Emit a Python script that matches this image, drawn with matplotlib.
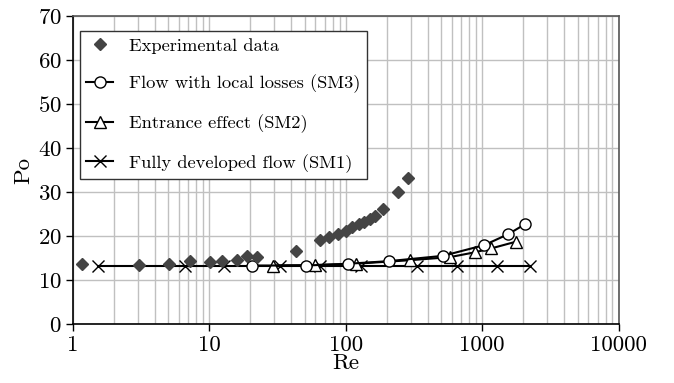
import matplotlib.pyplot as plt
from matplotlib.ticker import FixedLocator, FixedFormatter, LogLocator, NullFormatter

plt.rcParams['font.family'] = 'cmr10'
plt.rcParams['axes.formatter.use_mathtext'] = True

# experimental data
re_exp = [1.17, 3.03, 5.1, 7.2, 10.2, 12.4, 15.9, 18.9, 22.2, 43, 64.5, 75, 87, 101,
          112, 124, 136, 150, 163, 189, 242, 288]
po_exp = [13.7, 13.4, 13.6, 14.3, 14.2, 14.4, 14.5, 15.5, 15.3, 16.6, 19.1, 19.8, 20.4,
          21.2, 22.1, 22.7, 23.3, 23.9, 24.6, 26.1, 30.1, 33.3]

# SM3 - flow with local losses
re_sm3 = [20.6, 51.5, 104, 208, 516, 1038, 1556, 2059]
po_sm3 = [13.3, 13.3, 13.7, 14.3, 15.5, 17.95, 20.45, 22.7]

# SM2 - entrance effect
re_sm2 = [29.3, 59.3, 118, 294, 578, 881, 1167, 1759]
po_sm2 = [13.3, 13.4, 13.7, 14.5, 15.2, 16.3, 17.2, 18.7]

# SM1 - fully developed flow
re_sm1 = [1.53, 6.6, 12.8, 32.9, 64.5, 130, 330, 654, 1292, 2228]
po_sm1 = [13.3] * len(re_sm1)

fig = plt.figure(figsize=(6.74, 3.83), dpi=100)
ax = fig.add_axes([0.108, 0.154, 0.81, 0.804])

ax.plot(re_exp, po_exp, linestyle='none', marker='D', markersize=6.5,
        color='#444444', label='Experimental data', zorder=5)
ax.plot(re_sm3, po_sm3, color='black', lw=1.5, marker='o', markersize=8,
        markerfacecolor='white', markeredgecolor='black', label='Flow with local losses (SM3)', zorder=4)
ax.plot(re_sm2, po_sm2, color='black', lw=1.5, marker='^', markersize=8,
        markerfacecolor='white', markeredgecolor='black', label='Entrance effect (SM2)', zorder=3)
ax.plot(re_sm1, po_sm1, color='black', lw=1.5, marker='x', markersize=9,
        markeredgewidth=1.0, label='Fully developed flow (SM1)', zorder=2)

ax.set_xscale('log')
ax.set_xlim(1, 10000)
ax.set_ylim(0, 70)

ax.xaxis.set_major_locator(FixedLocator([1, 10, 100, 1000, 10000]))
ax.xaxis.set_major_formatter(FixedFormatter(['1', '10', '100', '1000', '10000']))
ax.xaxis.set_minor_locator(LogLocator(base=10, subs=range(2, 10)))
ax.xaxis.set_minor_formatter(NullFormatter())
ax.set_yticks(range(0, 71, 10))

ax.grid(True, which='both', axis='x', color='#c0c0c0', lw=1.0)
ax.grid(True, which='major', axis='y', color='#c0c0c0', lw=1.0)
ax.set_axisbelow(True)

ax.tick_params(axis='both', which='major', direction='out', length=5, width=1,
               labelsize=16.5, top=False, right=False, pad=3)
ax.tick_params(axis='x', which='minor', length=0)

for side in ['left', 'bottom']:
    ax.spines[side].set_color('black')
    ax.spines[side].set_linewidth(1.2)
for side in ['top', 'right']:
    ax.spines[side].set_color('#555555')
    ax.spines[side].set_linewidth(1.2)

ax.set_xlabel('Re', fontsize=16.5, labelpad=-1)
ax.set_ylabel('Po', fontsize=16.5, labelpad=3)

leg = ax.legend(loc='upper left', bbox_to_anchor=(0.0128, 0.951), borderaxespad=0,
                fontsize=13.3, labelspacing=1.14, handlelength=1.45, handletextpad=0.85,
                fancybox=False, framealpha=1, edgecolor='#333333', borderpad=0.35)
leg.get_frame().set_linewidth(1.0)

fig.savefig('out.png', dpi=100)
